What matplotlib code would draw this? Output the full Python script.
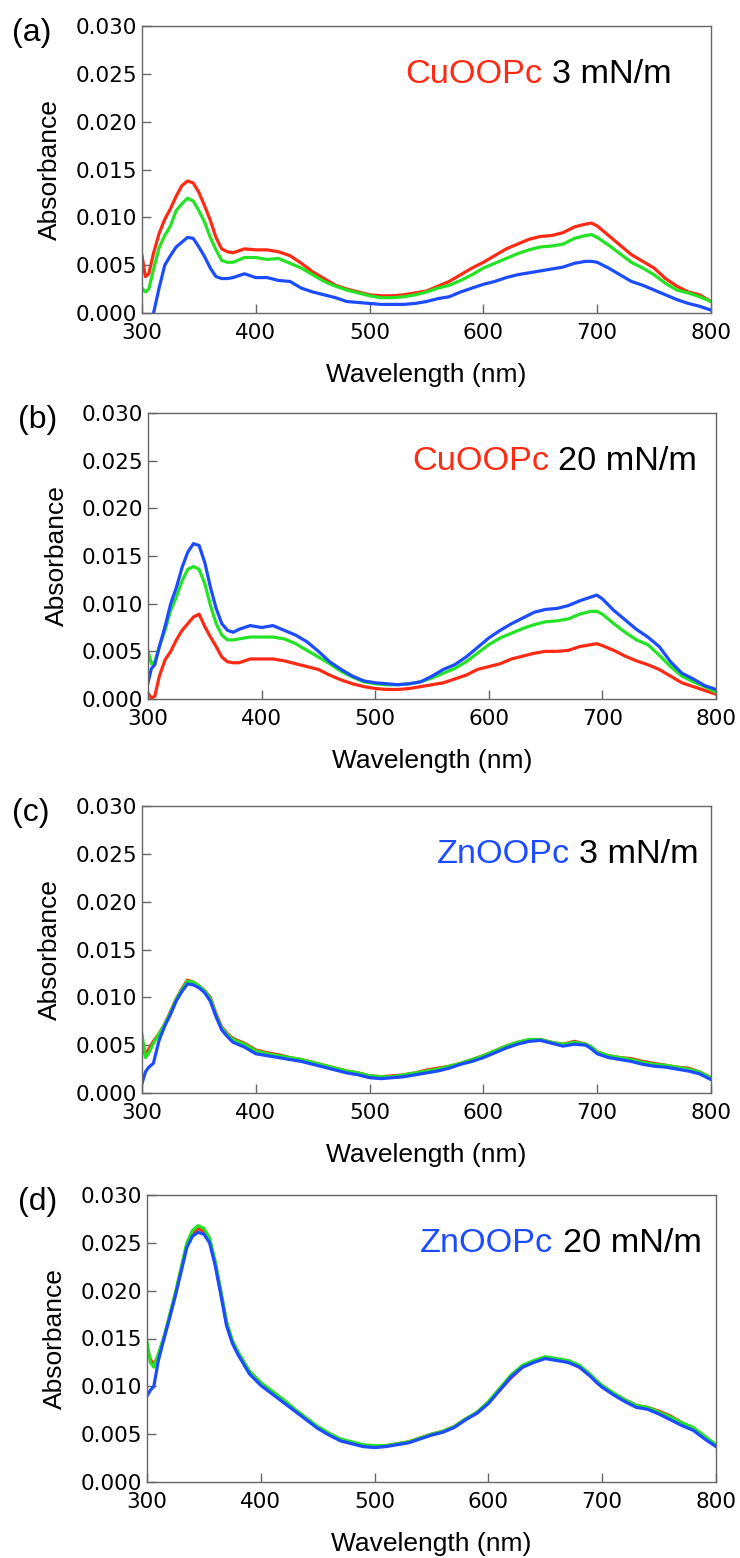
import matplotlib
matplotlib.use('Agg')
import matplotlib.pyplot as plt

# ------------------------------------
# Data
# ------------------------------------
wavelength = [300, 303, 306, 310, 315, 320, 325, 330, 335, 340, 345, 350, 355, 360, 365, 370, 375,
              380, 390, 400, 410, 420, 430, 440, 450, 460, 470, 480, 490, 500, 510, 520, 530, 540,
              550, 560, 570, 580, 590, 600, 610, 620, 630, 640, 650, 660, 670, 680, 690, 695, 700,
              710, 720, 730, 740, 750, 760, 770, 780, 790, 800]

# (a) CuOOPc 3 mN/m
cu3_red = [.0060, .0038, .0041, .0062, .0083, .0098, .0109, .0122, .0133, .0138, .0136, .0126, .0112,
           .0097, .0079, .0067, .0064, .0063, .0067, .0066, .0066, .0064, .0060, .0052, .0043, .0036,
           .0029, .0025, .0022, .0019, .0018, .0018, .0019, .0021, .0023, .0028, .0033, .0040, .0047,
           .0053, .0060, .0067, .0072, .0077, .0080, .0081, .0084, .0090, .0093, .0094, .0091, .0081,
           .0071, .0061, .0054, .0047, .0036, .0028, .0022, .0019, .0012]
cu3_green = [.0026, .0022, .0025, .0045, .0068, .0081, .0091, .0107, .0114, .0120, .0117, .0107, .0095,
             .0079, .0066, .0055, .0053, .0053, .0058, .0058, .0056, .0057, .0052, .0047, .0040, .0033,
             .0028, .0024, .0021, .0018, .0016, .0016, .0017, .0019, .0022, .0026, .0029, .0034, .0040,
             .0047, .0052, .0057, .0062, .0066, .0069, .0070, .0072, .0078, .0081, .0082, .0079, .0071,
             .0062, .0053, .0047, .0040, .0031, .0024, .0021, .0017, .0012]
cu3_blue = [-.0040, -.0030, -.0015, -.0001, .0026, .0050, .0060, .0069, .0074, .0079, .0078, .0069, .0059,
            .0047, .0038, .0036, .0036, .0037, .0041, .0037, .0037, .0034, .0033, .0026, .0022, .0019,
            .0016, .0012, .0011, .0010, .0009, .0009, .0009, .0010, .0012, .0015, .0017, .0022, .0026,
            .0030, .0033, .0037, .0040, .0042, .0044, .0046, .0048, .0052, .0054, .0054, .0053, .0047,
            .0040, .0033, .0029, .0024, .0019, .0014, .0010, .0007, .0003]

# (b) CuOOPc 20 mN/m
cu20_red = [.0006, .0001, .0003, .0024, .0041, .0050, .0062, .0072, .0079, .0086, .0089, .0076, .0065,
            .0055, .0044, .0039, .0038, .0038, .0042, .0042, .0042, .0040, .0037, .0034, .0031, .0025,
            .0020, .0016, .0013, .0011, .0010, .0010, .0011, .0013, .0015, .0017, .0021, .0025, .0031,
            .0034, .0037, .0042, .0045, .0048, .0050, .0050, .0051, .0055, .0057, .0058, .0056, .0051,
            .0045, .0040, .0036, .0031, .0024, .0017, .0013, .0009, .0005]
cu20_green = [.0050, .0037, .0039, .0055, .0072, .0093, .0107, .0124, .0136, .0139, .0136, .0121, .0098,
              .0079, .0067, .0062, .0062, .0063, .0065, .0065, .0065, .0063, .0058, .0051, .0044, .0037,
              .0029, .0023, .0018, .0016, .0015, .0015, .0016, .0018, .0022, .0027, .0032, .0039, .0048,
              .0057, .0064, .0069, .0074, .0078, .0081, .0082, .0084, .0089, .0092, .0092, .0089, .0079,
              .0070, .0062, .0057, .0046, .0034, .0024, .0018, .0013, .0007]
cu20_blue = [.0017, .0032, .0036, .0055, .0076, .0100, .0117, .0138, .0154, .0163, .0161, .0143, .0117,
             .0095, .0079, .0072, .0070, .0073, .0077, .0075, .0077, .0072, .0067, .0060, .0050, .0039,
             .0031, .0024, .0019, .0017, .0016, .0015, .0016, .0018, .0024, .0031, .0036, .0044, .0054,
             .0064, .0072, .0079, .0085, .0091, .0094, .0095, .0098, .0103, .0107, .0109, .0105, .0093,
             .0083, .0073, .0065, .0055, .0039, .0027, .0021, .0014, .0010]

# (c) ZnOOPc 3 mN/m
zn3_red = [.0055, .0040, .0046, .0054, .0062, .0072, .0085, .0098, .0109, .0118, .0116, .0112, .0107,
           .0100, .0083, .0069, .0062, .0057, .0052, .0045, .0042, .0040, .0037, .0035, .0032, .0029,
           .0026, .0023, .0021, .0018, .0017, .0018, .0019, .0021, .0024, .0026, .0028, .0031, .0035,
           .0039, .0044, .0049, .0053, .0055, .0056, .0053, .0051, .0054, .0051, .0048, .0043, .0039,
           .0037, .0036, .0033, .0031, .0029, .0027, .0026, .0022, .0016]
zn3_green = [.0061, .0037, .0042, .0052, .0062, .0072, .0084, .0098, .0108, .0117, .0116, .0112, .0107,
             .0099, .0082, .0068, .0061, .0056, .0051, .0044, .0041, .0039, .0037, .0035, .0032, .0029,
             .0026, .0023, .0021, .0018, .0017, .0017, .0019, .0021, .0023, .0025, .0028, .0031, .0035,
             .0039, .0044, .0049, .0053, .0056, .0056, .0053, .0051, .0053, .0051, .0048, .0043, .0039,
             .0037, .0035, .0032, .0030, .0029, .0027, .0025, .0022, .0016]
zn3_blue = [.0010, .0022, .0027, .0031, .0055, .0070, .0082, .0096, .0106, .0114, .0113, .0110, .0105,
            .0096, .0080, .0066, .0059, .0053, .0048, .0041, .0039, .0037, .0035, .0033, .0030, .0027,
            .0024, .0021, .0019, .0016, .0015, .0016, .0017, .0019, .0021, .0023, .0026, .0030, .0033,
            .0037, .0042, .0047, .0051, .0054, .0055, .0052, .0049, .0051, .0050, .0046, .0041, .0037,
            .0035, .0033, .0030, .0028, .0027, .0025, .0023, .0020, .0014]

# (d) ZnOOPc 20 mN/m
zn20_red = [.0140, .0128, .0123, .0132, .0151, .0174, .0197, .0222, .0248, .0260, .0265, .0262, .0253,
            .0228, .0197, .0165, .0147, .0135, .0115, .0103, .0094, .0085, .0075, .0066, .0057, .0050,
            .0044, .0041, .0038, .0037, .0038, .0040, .0042, .0046, .0050, .0053, .0058, .0066, .0072,
            .0083, .0096, .0109, .0120, .0126, .0130, .0128, .0126, .0120, .0111, .0105, .0100, .0092,
            .0086, .0080, .0078, .0074, .0069, .0062, .0056, .0047, .0038]
zn20_green = [.0146, .0125, .0120, .0134, .0152, .0175, .0198, .0224, .0250, .0263, .0268, .0265, .0255,
              .0230, .0199, .0167, .0148, .0136, .0116, .0104, .0095, .0086, .0076, .0067, .0058, .0051,
              .0045, .0042, .0039, .0038, .0038, .0040, .0042, .0046, .0050, .0053, .0058, .0066, .0073,
              .0084, .0098, .0112, .0122, .0127, .0131, .0129, .0127, .0122, .0112, .0106, .0101, .0093,
              .0086, .0080, .0078, .0073, .0068, .0062, .0057, .0048, .0039]
zn20_blue = [.0090, .0096, .0100, .0127, .0150, .0172, .0195, .0220, .0245, .0257, .0261, .0259, .0250,
             .0226, .0195, .0163, .0145, .0133, .0113, .0101, .0092, .0083, .0074, .0065, .0056, .0049,
             .0043, .0040, .0037, .0036, .0037, .0039, .0041, .0045, .0049, .0052, .0057, .0065, .0072,
             .0082, .0096, .0110, .0120, .0125, .0129, .0127, .0125, .0120, .0110, .0104, .0099, .0091,
             .0084, .0078, .0076, .0071, .0065, .0059, .0054, .0045, .0037]

panel_letters = ['(a)', '(b)', '(c)', '(d)']
compounds = ['CuOOPc', 'CuOOPc', 'ZnOOPc', 'ZnOOPc']
pressures = ['3 mN/m', '20 mN/m', '3 mN/m', '20 mN/m']
y_ticks = [0.000, 0.005, 0.010, 0.015, 0.020, 0.025, 0.030]
x_ticks = [300, 400, 500, 600, 700, 800]

RED = '#ff2a14'
GREEN = '#24e324'
BLUE = '#1c4cff'
SPINE = '#666666'

W, H = 740, 1558


def main():

    fig = plt.figure(figsize=(W / 100, H / 100), dpi=100)

    # axes boxes in pixels: left, top, right, bottom
    boxes = [(142, 26, 711, 313), (148, 413, 716, 699),
             (142, 806, 711, 1093), (147, 1195, 716, 1482)]
    title_x = [0.931, 0.967, 0.979, 0.975]
    series = [(cu3_red, cu3_green, cu3_blue), (cu20_red, cu20_green, cu20_blue),
              (zn3_red, zn3_green, zn3_blue), (zn20_red, zn20_green, zn20_blue)]

    for i in range(4):
        l, t, r, b = boxes[i]
        ax = fig.add_axes([l / W, 1 - b / H, (r - l) / W, (b - t) / H])

        red, green, blue = series[i]
        ax.plot(wavelength, red, color=RED, linewidth=2.3)
        ax.plot(wavelength, green, color=GREEN, linewidth=2.3)
        ax.plot(wavelength, blue, color=BLUE, linewidth=2.3)

        ax.set_xlim(300, 800)
        ax.set_ylim(0, 0.030)
        ax.set_xticks(x_ticks)
        ax.set_yticks(y_ticks)
        ax.set_yticklabels(['%.3f' % v for v in y_ticks])
        ax.tick_params(direction='in', length=6.5, width=1, color=SPINE,
                       labelsize=15.5, top=False, right=False)
        ax.tick_params(axis='x', pad=7)
        ax.tick_params(axis='y', pad=3.5)
        for lab in ax.get_xticklabels() + ax.get_yticklabels():
            lab.set_family('DejaVu Sans')
        for sp in ax.spines.values():
            sp.set_color(SPINE)
            sp.set_linewidth(1)

        ax.set_xlabel('Wavelength (nm)', fontsize=19, family='Liberation Sans')
        ax.set_ylabel('Absorbance', fontsize=19, family='Liberation Sans')
        ax.xaxis.set_label_coords(0.5, -0.175)
        ax.yaxis.set_label_coords(-0.14, 0.5)

        # two coloured title: compound name + surface pressure
        txt = ax.text(title_x[i], 0.80, pressures[i], transform=ax.transAxes,
                      ha='right', va='baseline', fontsize=24.7,
                      family='Liberation Sans', color='black')
        ax.annotate(compounds[i], xy=(0, 0), xycoords=txt, xytext=(-6.9, 0),
                    textcoords='offset points', ha='right', va='bottom',
                    fontsize=24.7, family='Liberation Sans',
                    color=RED if compounds[i].startswith('Cu') else BLUE)

        # panel letter
        fig.text((l - 130) / W if l < 145 else 18 / W, 1 - (t + 7) / H, panel_letters[i],
                 ha='left', va='center', fontsize=23, family='Liberation Sans')

    fig.savefig('out.png', dpi=100)


if __name__ == '__main__':
    main()
